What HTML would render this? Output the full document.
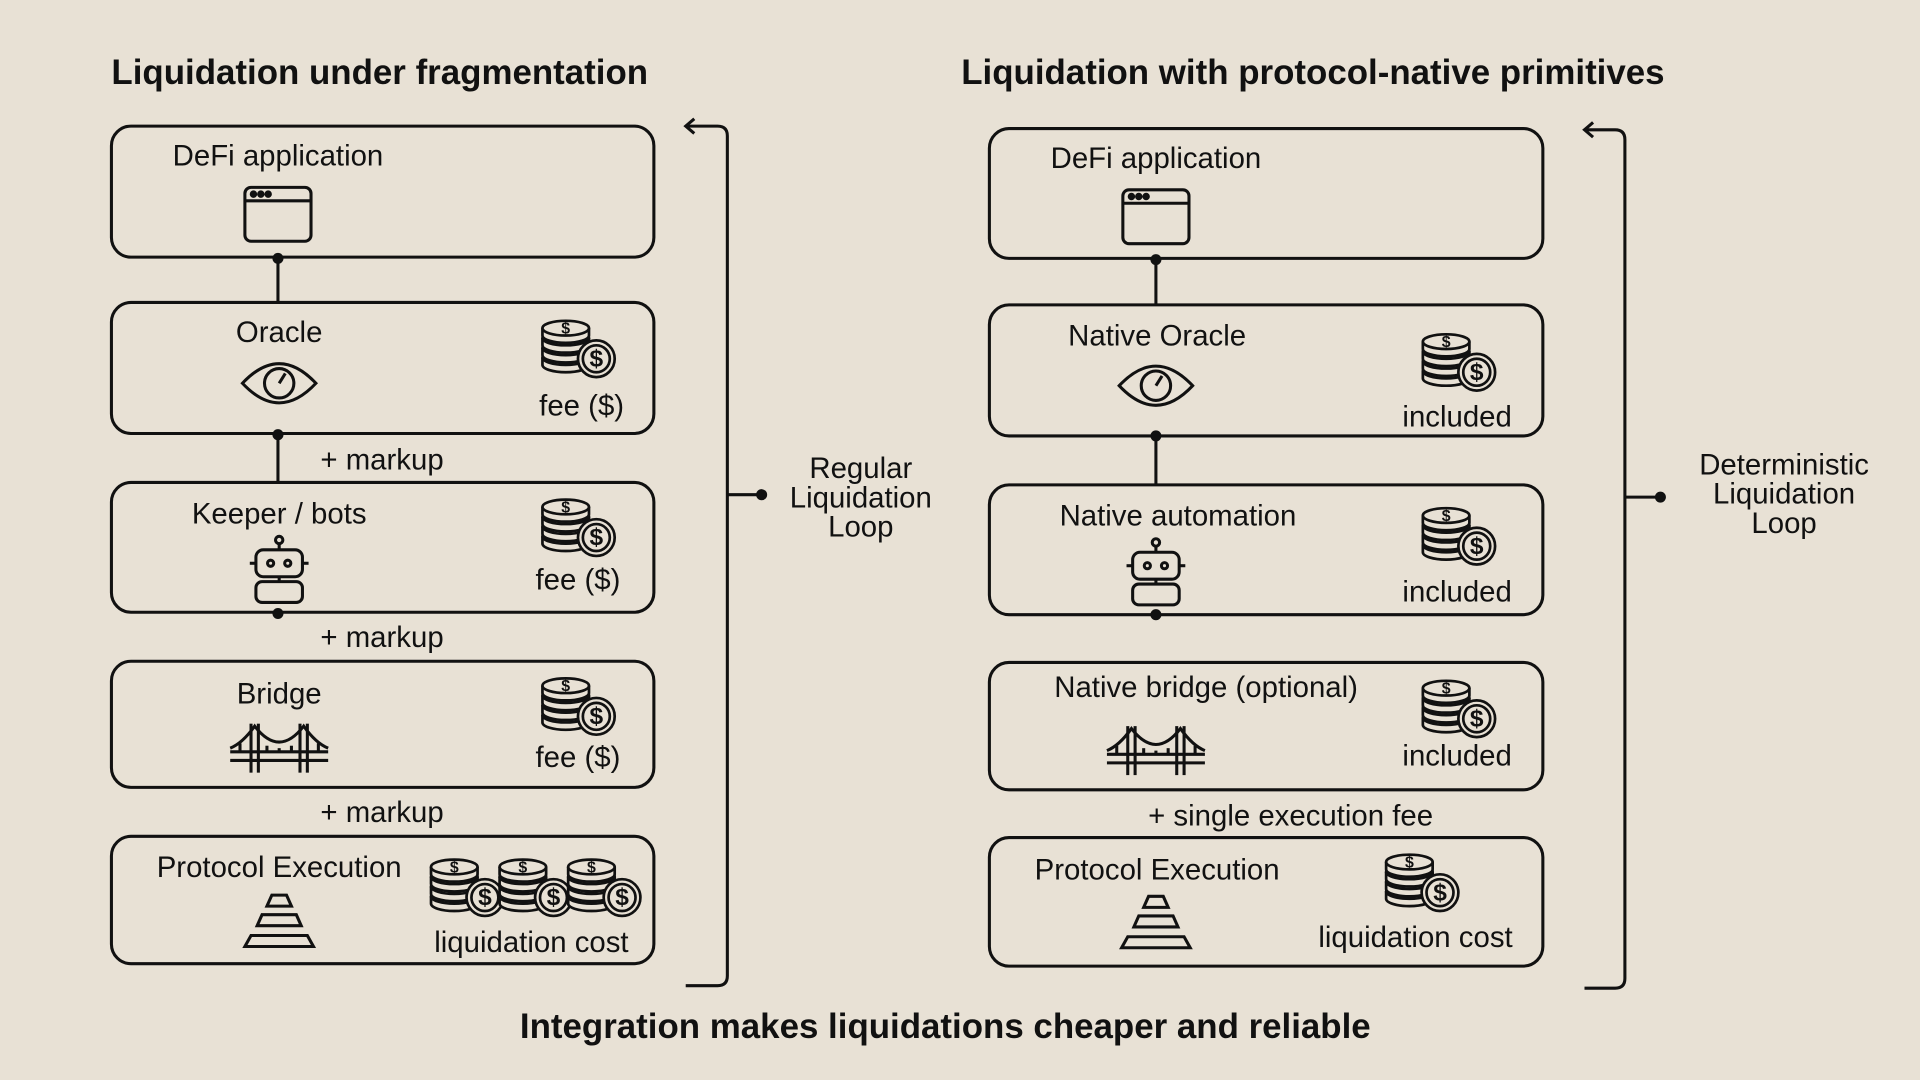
<!DOCTYPE html>
<html><head><meta charset="utf-8"><style>
html,body{margin:0;padding:0;background:#e8e1d5;width:1920px;height:1080px;overflow:hidden}
svg{display:block}
text{font-family:"Liberation Sans",sans-serif;fill:#111;dominant-baseline:middle}
</style></head><body>
<svg width="1920" height="1080" viewBox="0 0 1568 882">
<defs>
<g id="stack" stroke="#111" stroke-width="2.2" fill="#e8e1d5">
  <path d="M-19 24v6a19 6 0 0 0 38 0v-6"/>
  <ellipse cx="0" cy="24" rx="19" ry="6"/>
  <path d="M-19 16v6a19 6 0 0 0 38 0v-6"/>
  <ellipse cx="0" cy="16" rx="19" ry="6"/>
  <path d="M-19 8v6a19 6 0 0 0 38 0v-6"/>
  <ellipse cx="0" cy="8" rx="19" ry="6"/>
  <path d="M-19 0v6a19 6 0 0 0 38 0v-6"/>
  <ellipse cx="0" cy="0" rx="19" ry="6"/>
  <circle cx="25" cy="25" r="15"/>
  <circle cx="25" cy="25" r="11"/>
</g>
<g id="win" stroke="#111" stroke-width="2.5" fill="none">
  <rect x="-27" y="-22" width="54" height="44" rx="5"/>
  <line x1="-27" y1="-11" x2="27" y2="-11"/>
  <circle cx="-20" cy="-16.5" r="1.8" fill="#111"/><circle cx="-14" cy="-16.5" r="1.8" fill="#111"/><circle cx="-8" cy="-16.5" r="1.8" fill="#111"/>
</g>
<g id="eye" stroke="#111" stroke-width="2.5" fill="none">
  <path d="M-30 0Q0-32 30 0Q0 32-30 0Z"/>
  <circle r="12"/>
  <line x1="0" y1="0" x2="5" y2="-8"/>
</g>
<g id="robot" stroke="#111" stroke-width="2.5" fill="none">
  <circle cx="0" cy="-24" r="3"/><line x1="0" y1="-21" x2="0" y2="-16"/>
  <rect x="-19" y="-16" width="38" height="22" rx="6"/>
  <circle cx="-7" cy="-5" r="2.5"/><circle cx="7" cy="-5" r="2.5"/>
  <line x1="-19" y1="-5" x2="-24" y2="-5"/><line x1="19" y1="-5" x2="24" y2="-5"/>
  <line x1="0" y1="6" x2="0" y2="10"/>
  <rect x="-19" y="10" width="38" height="17" rx="5"/>
</g>
<g id="bridge" stroke="#111" stroke-width="2.5" fill="none">
  <line x1="-40" y1="3" x2="40" y2="3"/><line x1="-40" y1="10" x2="40" y2="10"/>
  <line x1="-23" y1="-20" x2="-23" y2="20"/><line x1="-17" y1="-20" x2="-17" y2="20"/>
  <line x1="17" y1="-20" x2="17" y2="20"/><line x1="23" y1="-20" x2="23" y2="20"/>
  <path d="M-40 0Q-30-4-20-18Q0 8 20-18Q30-4 40 0"/>
  <line x1="-10" y1="-2" x2="-10" y2="3"/><line x1="0" y1="0" x2="0" y2="3"/><line x1="10" y1="-2" x2="10" y2="3"/>
  <line x1="-32" y1="-4" x2="-32" y2="3"/><line x1="32" y1="-4" x2="32" y2="3"/>
</g>
<g id="pyr" stroke="#111" stroke-width="2.5" fill="none">
  <path d="M-6-22h12l4 9h-20Z"/>
  <path d="M-14-6h28l4 9h-36Z"/>
  <path d="M-23 11h46l5 9h-56Z"/>
</g>
</defs>

<g font-size="28.5" font-weight="bold">
<text x="91" y="61">Liquidation under fragmentation</text>
<text x="785" y="61">Liquidation with protocol-native primitives</text>
<text x="772" y="840" text-anchor="middle">Integration makes liquidations cheaper and reliable</text>
</g>

<g stroke="#111" stroke-width="2.5" fill="none">
<line x1="227" y1="211" x2="227" y2="501"/>
<line x1="944" y1="212" x2="944" y2="502"/>
<rect x="91" y="103" width="443" height="107" rx="16" fill="#e8e1d5"/>
<rect x="91" y="247" width="443" height="107" rx="16" fill="#e8e1d5"/>
<rect x="91" y="394" width="443" height="106" rx="16" fill="#e8e1d5"/>
<rect x="91" y="540" width="443" height="103" rx="16" fill="#e8e1d5"/>
<rect x="91" y="683" width="443" height="104" rx="16" fill="#e8e1d5"/>
<rect x="808" y="105" width="452" height="106" rx="16" fill="#e8e1d5"/>
<rect x="808" y="249" width="452" height="107" rx="16" fill="#e8e1d5"/>
<rect x="808" y="396" width="452" height="106" rx="16" fill="#e8e1d5"/>
<rect x="808" y="541" width="452" height="104" rx="16" fill="#e8e1d5"/>
<rect x="808" y="684" width="452" height="105" rx="16" fill="#e8e1d5"/>
<path d="M560 103H586Q594 103 594 111V797Q594 805 586 805H560"/>
<path d="M567 97L560 103L567 109"/>
<line x1="594" y1="404" x2="622" y2="404"/>
<path d="M1294 106H1319Q1327 106 1327 114V799Q1327 807 1319 807H1294"/>
<path d="M1301 100L1294 106L1301 112"/>
<line x1="1327" y1="406" x2="1356" y2="406"/>
</g>
<g fill="#111">
<circle cx="227" cy="211" r="4.5"/><circle cx="227" cy="355" r="4.5"/><circle cx="227" cy="501" r="4.5"/>
<circle cx="944" cy="212" r="4.5"/><circle cx="944" cy="356" r="4.5"/><circle cx="944" cy="502" r="4.5"/>
<circle cx="622" cy="404" r="4.5"/><circle cx="1356" cy="406" r="4.5"/>
</g>

<g font-size="24">
<text x="141" y="129">DeFi application</text>
<text x="228" y="273" text-anchor="middle">Oracle</text>
<text x="475" y="333" text-anchor="middle">fee ($)</text>
<text x="228" y="421" text-anchor="middle">Keeper / bots</text>
<text x="472" y="475" text-anchor="middle">fee ($)</text>
<text x="228" y="568" text-anchor="middle">Bridge</text>
<text x="472" y="620" text-anchor="middle">fee ($)</text>
<text x="228" y="710" text-anchor="middle">Protocol Execution</text>
<text x="434" y="771" text-anchor="middle">liquidation cost</text>
<text x="312" y="377" text-anchor="middle">+ markup</text>
<text x="312" y="522" text-anchor="middle">+ markup</text>
<text x="312" y="665" text-anchor="middle">+ markup</text>
<text x="703" y="384" text-anchor="middle">Regular</text>
<text x="703" y="408" text-anchor="middle">Liquidation</text>
<text x="703" y="432" text-anchor="middle">Loop</text>

<text x="858" y="131">DeFi application</text>
<text x="945" y="276" text-anchor="middle">Native Oracle</text>
<text x="1190" y="342" text-anchor="middle">included</text>
<text x="962" y="423" text-anchor="middle">Native automation</text>
<text x="1190" y="485" text-anchor="middle">included</text>
<text x="985" y="563" text-anchor="middle">Native bridge (optional)</text>
<text x="1190" y="619" text-anchor="middle">included</text>
<text x="945" y="712" text-anchor="middle">Protocol Execution</text>
<text x="1156" y="767" text-anchor="middle">liquidation cost</text>
<text x="1054" y="668" text-anchor="middle">+ single execution fee</text>
<text x="1457" y="381" text-anchor="middle">Deterministic</text>
<text x="1457" y="405" text-anchor="middle">Liquidation</text>
<text x="1457" y="429" text-anchor="middle">Loop</text>
</g>

<use href="#win" x="227" y="175"/><use href="#win" x="944" y="177"/>
<use href="#eye" x="228" y="313"/><use href="#eye" x="944" y="315"/>
<use href="#robot" x="228" y="465"/><use href="#robot" x="944" y="467"/>
<use href="#bridge" x="228" y="611"/><use href="#bridge" x="944" y="613"/>
<use href="#pyr" x="228" y="753"/><use href="#pyr" x="944" y="754"/>

<g font-size="13" font-weight="bold" text-anchor="middle">
<use href="#stack" x="462" y="268"/><text x="462" y="269">$</text><text x="487" y="294" font-size="20">$</text>
<use href="#stack" x="462" y="414"/><text x="462" y="415">$</text><text x="487" y="440" font-size="20">$</text>
<use href="#stack" x="462" y="560"/><text x="462" y="561">$</text><text x="487" y="586" font-size="20">$</text>
<use href="#stack" x="371" y="708"/><text x="371" y="709">$</text><text x="396" y="734" font-size="20">$</text>
<use href="#stack" x="427" y="708"/><text x="427" y="709">$</text><text x="452" y="734" font-size="20">$</text>
<use href="#stack" x="483" y="708"/><text x="483" y="709">$</text><text x="508" y="734" font-size="20">$</text>
<use href="#stack" x="1181" y="279"/><text x="1181" y="280">$</text><text x="1206" y="305" font-size="20">$</text>
<use href="#stack" x="1181" y="421"/><text x="1181" y="422">$</text><text x="1206" y="447" font-size="20">$</text>
<use href="#stack" x="1181" y="562"/><text x="1181" y="563">$</text><text x="1206" y="588" font-size="20">$</text>
<use href="#stack" x="1151" y="704"/><text x="1151" y="705">$</text><text x="1176" y="730" font-size="20">$</text>
</g>
</svg>
</body></html>
